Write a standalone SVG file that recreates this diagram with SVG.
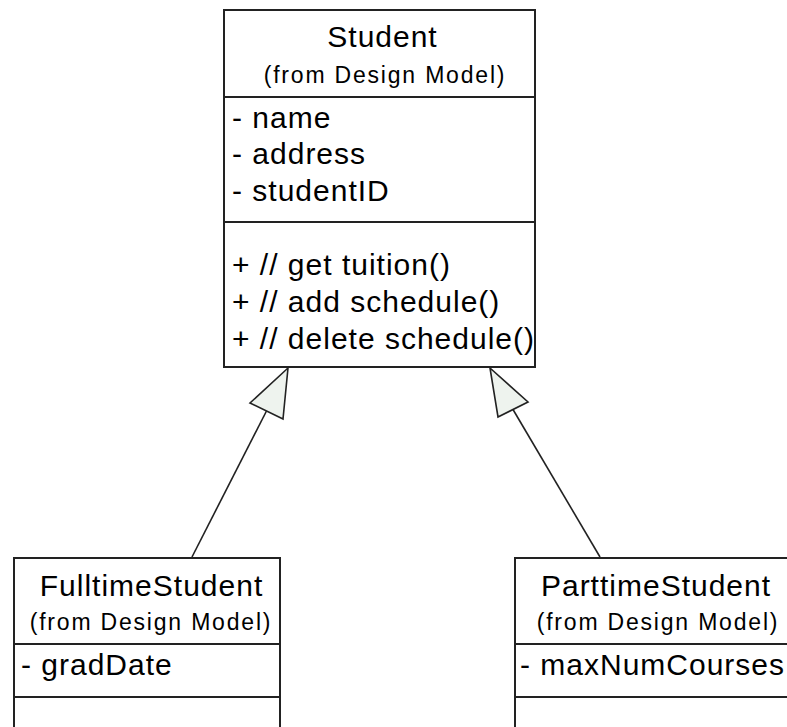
<svg xmlns="http://www.w3.org/2000/svg" width="787" height="727" viewBox="0 0 787 727">
  <style>
    .box { fill: #ffffff; stroke: #222222; stroke-width: 2; }
    .div { stroke: #222222; stroke-width: 2; fill: none; }
    .big { font-family: "Liberation Sans", Arial, sans-serif; font-size: 30px; letter-spacing: 1px; fill: #000000; }
    .small { font-family: "Liberation Sans", Arial, sans-serif; font-size: 23px; letter-spacing: 1.8px; fill: #000000; }
    .mid { text-anchor: middle; }
    .edge { stroke: #222222; stroke-width: 1.6; fill: none; }
    .head { fill: #eef3ee; stroke: #222222; stroke-width: 1.6; stroke-linejoin: miter; }
  </style>
  <rect width="787" height="727" fill="#ffffff"/>

  <g id="connectors">
    <g id="edge-fulltime">
      <line class="edge" x1="266.5" y1="411" x2="192" y2="557"/>
      <polygon class="head" points="288,368 250,403 283,419"/>
    </g>
    <g id="edge-parttime">
      <line class="edge" x1="513" y1="409.5" x2="600" y2="557"/>
      <polygon class="head" points="490,368 498,417 528,402"/>
    </g>
  </g>

  <g id="node-student">
    <rect class="box" x="224" y="10" width="311" height="357"/>
    <line class="div" x1="224" y1="97" x2="535" y2="97"/>
    <line class="div" x1="224" y1="222" x2="535" y2="222"/>
    <text class="big mid" x="382.5" y="47">Student</text>
    <text class="small mid" x="385" y="83">(from Design Model)</text>
    <text class="big" x="232" y="128">- name</text>
    <text class="big" x="232" y="164">- address</text>
    <text class="big" x="232" y="201">- studentID</text>
    <text class="big" x="232" y="275">+ // get tuition()</text>
    <text class="big" x="232" y="312">+ // add schedule()</text>
    <text class="big" x="232" y="349">+ // delete schedule()</text>
  </g>

  <g id="node-fulltime">
    <rect class="box" x="14" y="558" width="266" height="200"/>
    <line class="div" x1="14" y1="644" x2="280" y2="644"/>
    <line class="div" x1="14" y1="697" x2="280" y2="697"/>
    <text class="big mid" x="151.5" y="596">FulltimeStudent</text>
    <text class="small mid" x="151" y="630">(from Design Model)</text>
    <text class="big" x="21" y="675">- gradDate</text>
  </g>

  <g id="node-parttime">
    <rect class="box" x="515" y="558" width="290" height="200"/>
    <line class="div" x1="515" y1="644" x2="805" y2="644"/>
    <line class="div" x1="515" y1="697" x2="805" y2="697"/>
    <text class="big mid" x="656" y="596">ParttimeStudent</text>
    <text class="small mid" x="658" y="630">(from Design Model)</text>
    <text class="big" x="520" y="675">- maxNumCourses</text>
  </g>
</svg>
